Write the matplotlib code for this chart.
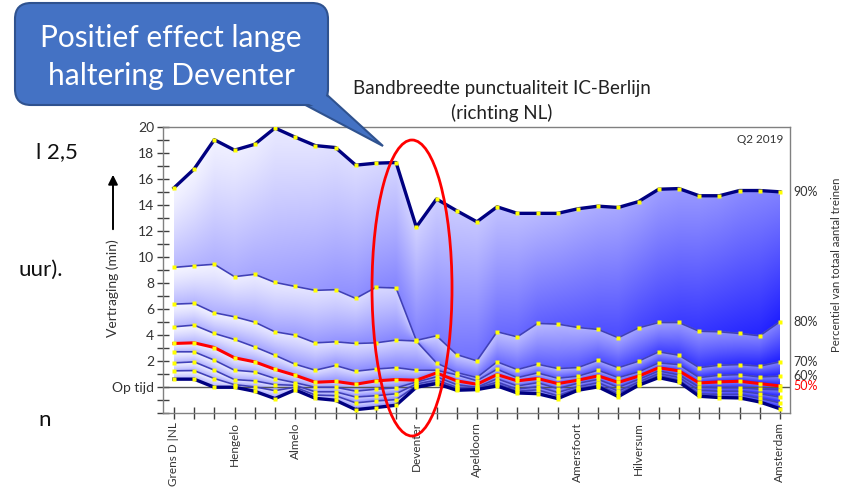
import numpy as np
import matplotlib
matplotlib.use("Agg")
import matplotlib.pyplot as plt
from matplotlib.patches import FancyBboxPatch, Polygon, Ellipse
from matplotlib.transforms import blended_transform_factory

plt.rcParams['font.family'] = ['Lato', 'DejaVu Sans']

# --- DATA: delay percentiles (min) per station, IC-Berlijn towards NL, Q2 2019 ---
stations = ["Grens D |NL", "", "", "Hengelo", "", "", "Almelo", "", "", "", "", "",
            "Deventer", "", "", "Apeldoorn", "", "", "", "", "Amersfoort", "", "",
            "Hilversum", "", "", "", "", "", "", "Amsterdam"]

p90 = [15.3, 16.75, 19.0, 18.2, 18.65, 19.9, 19.2, 18.55, 18.4, 17.05, 17.2, 17.25, 12.3, 14.45, 13.55, 12.7,
       13.85, 13.35, 13.35, 13.35, 13.7, 13.9, 13.8, 14.25, 15.2, 15.25, 14.7, 14.7, 15.1, 15.1, 15.0]
p80 = [9.2, 9.33, 9.44, 8.49, 8.67, 8.05, 7.74, 7.44, 7.49, 6.82, 7.67, 7.62, 3.6, 3.95, 2.51, 2.03,
       4.26, 3.87, 4.9, 4.85, 4.59, 4.44, 3.8, 4.56, 4.97, 4.97, 4.3, 4.26, 4.13, 3.95, 5.03]
p70 = [6.38, 6.44, 5.72, 5.41, 5.0, 4.26, 4.0, 3.41, 3.49, 3.36, 3.41, 3.62, 3.55, 1.87, 1.13, 0.75,
       1.95, 1.36, 1.77, 1.44, 1.51, 2.08, 1.5, 2.0, 2.72, 2.46, 1.51, 1.69, 1.74, 1.62, 1.95]
p60 = [4.64, 4.77, 4.13, 3.67, 3.1, 2.46, 1.77, 1.31, 1.67, 1.23, 1.4, 1.51, 1.31, 1.31, 0.95, 0.5,
       1.38, 0.74, 1.1, 0.69, 0.85, 1.31, 0.74, 1.18, 1.87, 1.74, 0.74, 0.92, 0.97, 0.79, 0.85]
p50 = [3.36, 3.41, 3.05, 2.26, 1.95, 1.38, 0.92, 0.38, 0.45, 0.23, 0.49, 0.59, 0.54, 1.1, 0.49, 0.23,
       0.97, 0.49, 0.67, 0.28, 0.54, 0.87, 0.37, 0.85, 1.49, 1.26, 0.33, 0.41, 0.46, 0.28, 0.1]
p40 = [2.72, 2.72, 2.08, 1.31, 1.18, 0.67, 0.35, 0.0, 0.0, -0.3, -0.15, -0.05, 0.4, 0.8, 0.2, 0.0,
       0.65, 0.1, 0.35, -0.1, 0.3, 0.6, 0.0, 0.6, 1.25, 0.95, 0.0, -0.05, -0.05, -0.15, -0.2]
p30 = [1.87, 1.95, 1.31, 0.59, 0.49, 0.2, 0.15, -0.35, -0.35, -0.75, -0.65, -0.5, 0.25, 0.55, 0.0, -0.05,
       0.4, -0.15, 0.05, -0.4, 0.05, 0.35, -0.3, 0.4, 1.05, 0.75, -0.25, -0.3, -0.3, -0.5, -0.75]
p20 = [1.26, 1.28, 0.67, 0.2, 0.03, -0.26, 0.0, -0.6, -0.65, -1.2, -1.05, -0.95, 0.1, 0.4, -0.1, -0.12,
       0.25, -0.3, -0.2, -0.65, -0.1, 0.15, -0.5, 0.25, 0.9, 0.55, -0.5, -0.55, -0.55, -0.85, -1.2]
p10 = [0.62, 0.62, 0.0, 0.0, -0.31, -0.87, -0.2, -0.85, -1.0, -1.72, -1.56, -1.38, 0.0, 0.28, -0.23, -0.18,
       0.1, -0.44, -0.49, -0.87, -0.23, 0.03, -0.72, 0.15, 0.74, 0.41, -0.69, -0.79, -0.82, -1.13, -1.65]

percentiles = [p90, p80, p70, p60, p50, p40, p30, p20, p10]
right_labels = ["90%", "80%", "70%", "60%", "50%"]

x = np.arange(len(stations))

fig = plt.figure(figsize=(8.65, 4.96), dpi=100)
ax = fig.add_axes([163 / 865, 1 - 413.3 / 496, 627 / 865, 286.6 / 496])
ax.set_xlim(-0.54, 30.5)
ax.set_ylim(-2, 20)

# --- gradient fill, per band (light top-left -> saturated blue bottom-right) ---
nx, ny = 1200, 900
gx = np.linspace(x[0], x[-1], nx)
gy = np.linspace(-2, 20, ny)[:, None]
L = np.sort(np.array([np.interp(gx, x, p) for p in percentiles]), axis=0)[::-1]
xn = (gx - gx[0]) / (gx[-1] - gx[0])
light = np.array([0.96, 0.96, 1.0])
dark = np.array([0.12, 0.12, 1.0])
img = np.zeros((ny, nx, 4))
for k in range(len(percentiles) - 1):
    top, bot = L[k], L[k + 1]
    mask = (gy <= top) & (gy >= bot)
    t = np.clip((top - gy) / np.maximum(top - bot, 1e-6), 0, 1)
    s = np.clip(0.62 * xn + 0.38 * t, 0, 1) ** 1.3
    col = light[None, None, :] + (dark - light)[None, None, :] * s[:, :, None]
    img[..., :3] = np.where(mask[:, :, None], col, img[..., :3])
    img[..., 3] = np.where(mask, 1.0, img[..., 3])
ax.imshow(img, extent=(gx[0], gx[-1], -2, 20), origin='lower', aspect='auto',
          interpolation='bilinear', zorder=1)

ax.axhline(0, color='#555555', lw=1.0, zorder=2)

# --- percentile lines ---
for i, p in enumerate(percentiles):
    if i in (0, len(percentiles) - 1):
        color, lw = '#000080', 2.4
    elif i == 4:
        color, lw = '#ff0000', 2.2
    else:
        color, lw = '#4040b8', 1.2
    ax.plot(x, p, color=color, lw=lw, zorder=3 + (i == 4))
    ax.plot(x, p, ls='none', marker='s', ms=2.7, mfc='#ffff00', mec='none', zorder=5)

# --- axes styling ---
for sp in ax.spines.values():
    sp.set_color('#808080')
    sp.set_linewidth(1.0)
ax.set_yticks(range(-2, 21))
ax.set_yticklabels(['Op tijd' if v == 0 else (str(v) if v > 0 and v % 2 == 0 else '') for v in range(-2, 21)])
ax.tick_params(axis='y', direction='inout', length=9, width=1, color='#404040',
               labelsize=10, labelcolor='#333333', pad=2)
ax.set_xticks(x)
ax.set_xticklabels(stations, rotation=90, va='top', ha='center')
ax.tick_params(axis='x', direction='inout', length=9, width=1, color='#404040',
               labelsize=8.5, labelcolor='#333333', pad=2)

ax.text(0.99, 0.975, "Q2 2019", transform=ax.transAxes, ha='right', va='top',
        fontsize=8.5, color='#333333')

trans = blended_transform_factory(ax.transAxes, ax.transData)
for lab, p in zip(right_labels, percentiles[:5]):
    ax.text(1.006, p[-1], lab, transform=trans, ha='left', va='center', fontsize=9,
            color='#ff0000' if lab == "50%" else '#333333', clip_on=False)

# --- figure texts ---
fig.text(502 / 865, 1 - 88 / 496, "Bandbreedte punctualiteit IC-Berlijn", ha='center', va='center',
         fontsize=13.5, color='#222222')
fig.text(502 / 865, 1 - 113 / 496, "(richting NL)", ha='center', va='center',
         fontsize=13.5, color='#222222')
fig.text(836 / 865, 1 - 265 / 496, "Percentiel van totaal aantal treinen", rotation=90,
         ha='center', va='center', fontsize=8.2, color='#333333')
fig.text(113 / 865, 1 - 288 / 496, "Vertraging (min)", rotation=90,
         ha='center', va='center', fontsize=10, color='#333333')

# --- overlay in pixel coordinates: callout, ellipse, slide fragments ---
ov = fig.add_axes([0, 0, 1, 1], zorder=10)
ov.set_xlim(0, 865)
ov.set_ylim(496, 0)
ov.axis('off')
ov.patch.set_alpha(0)

ov.annotate("", xy=(113, 172), xytext=(113, 232),
            arrowprops=dict(arrowstyle='-|>', color='black', lw=1.4, mutation_scale=14))

fill, edge = '#4472c4', '#2f528f'
ov.add_patch(Polygon([(296, 100), (326, 94), (383, 146)], closed=True,
                     facecolor=fill, edgecolor=edge, lw=1.5, zorder=1))
ov.add_patch(FancyBboxPatch((15, 3), 313, 102, boxstyle="round,pad=0,rounding_size=16",
                            facecolor=fill, edgecolor=edge, lw=1.5, zorder=2))
ov.add_patch(Polygon([(298, 99), (325, 95), (360, 127)], closed=True,
                     facecolor=fill, edgecolor='none', zorder=3))
ov.text(171, 38, "Positief effect lange", ha='center', va='center', fontsize=21.5,
        color='white', zorder=4)
ov.text(171, 76, "haltering Deventer", ha='center', va='center', fontsize=21.5,
        color='white', zorder=4)

ov.add_patch(Ellipse((412, 288), 80, 296, facecolor='none', edgecolor='#ff0000', lw=2, zorder=5))

for txt, px, py in [("l 2,5", 36, 152), ("uur).", 18, 270), ("n", 38, 420)]:
    ov.text(px, py, txt, ha='left', va='center', fontsize=16, color='#111111')

fig.savefig("out.png", dpi=100)
